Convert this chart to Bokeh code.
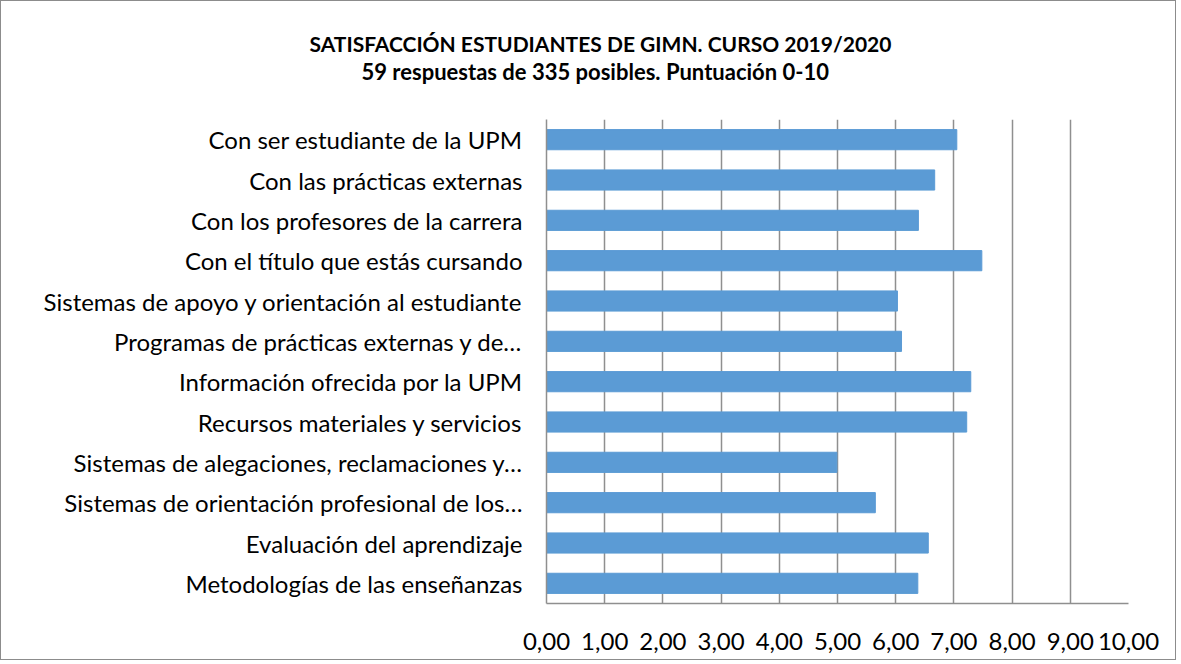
from bokeh.plotting import figure
from bokeh.models import FactorRange, Range1d, FixedTicker, Title
from bokeh.embed import file_html
from bokeh.resources import INLINE

categories = [
    "Con ser estudiante de la UPM",
    "Con las prácticas externas",
    "Con los profesores de la carrera",
    "Con el título que estás cursando",
    "Sistemas de apoyo y orientación al estudiante",
    "Programas de prácticas externas y de…",
    "Información ofrecida por la UPM",
    "Recursos materiales y servicios",
    "Sistemas de alegaciones, reclamaciones y…",
    "Sistemas de orientación profesional de los…",
    "Evaluación del aprendizaje",
    "Metodologías de las enseñanzas",
]
scores = [7.05, 6.67, 6.39, 7.48, 6.03, 6.10, 7.29, 7.22, 4.99, 5.65, 6.56, 6.38]
tick_values = [0, 1, 2, 3, 4, 5, 6, 7, 8, 9, 10]
tick_labels = ["0,00", "1,00", "2,00", "3,00", "4,00", "5,00", "6,00", "7,00", "8,00", "9,00", "10,00"]
title_line1 = "SATISFACCIÓN ESTUDIANTES DE GIMN. CURSO 2019/2020"
title_line2 = "59 respuestas de 335 posibles. Puntuación 0-10"

FONT = "Lato"
W, H = 1176, 660
FL, FR, FT, FB = 545, 1127, 118, 602

p = figure(
    width=W, height=H,
    y_range=FactorRange(*list(reversed(categories)), range_padding=0),
    x_range=Range1d(0, 10),
    output_backend="svg", toolbar_location=None,
    min_border_left=FL, min_border_right=W - FR, min_border_top=FT, min_border_bottom=H - FB,
)
p.styles = {"border": "1px solid #8c8c8c"}
p.outline_line_color = None
p.background_fill_color = "white"
p.border_fill_color = "white"

p.hbar(y=categories, right=scores, left=0, height=0.5, color="#5B9BD5", line_color="#5B9BD5")

p.xaxis.ticker = FixedTicker(ticks=tick_values)
p.xaxis.major_label_overrides = {v: l for v, l in zip(tick_values, tick_labels)}
p.xaxis.major_tick_line_color = None
p.xaxis.minor_tick_line_color = None
p.xaxis.axis_line_color = "#8f8f8f"
p.xaxis.axis_line_width = 1.5
p.xaxis.major_label_standoff = 23
p.xaxis.major_label_text_font = FONT
p.xaxis.major_label_text_font_size = "24px"
p.xaxis.major_label_text_color = "black"

p.yaxis.major_tick_line_color = None
p.yaxis.minor_tick_line_color = None
p.yaxis.axis_line_color = "#8f8f8f"
p.yaxis.axis_line_width = 1.5
p.yaxis.major_label_standoff = 18
p.yaxis.major_label_text_font = FONT
p.yaxis.major_label_text_font_size = "24px"
p.yaxis.major_label_text_color = "black"

p.xgrid.grid_line_color = "#8f8f8f"
p.xgrid.grid_line_width = 1.5
p.xgrid.ticker = FixedTicker(ticks=tick_values)
p.ygrid.grid_line_color = None

# titles: later-added "above" items sit further from the frame; a blank spacer first
p.add_layout(Title(text=" ", standoff=8, text_font=FONT, text_font_size="21px"), "above")
p.add_layout(Title(text=title_line2, align="left", offset=360 - FL, standoff=0,
                   text_font=FONT, text_font_style="bold", text_font_size="22px",
                   text_color="black"), "above")
p.add_layout(Title(text=title_line1, align="left", offset=308 - FL, standoff=0,
                   text_font=FONT, text_font_style="bold", text_font_size="21px",
                   text_color="black"), "above")

open("out.html", "w").write(file_html(p, INLINE))
